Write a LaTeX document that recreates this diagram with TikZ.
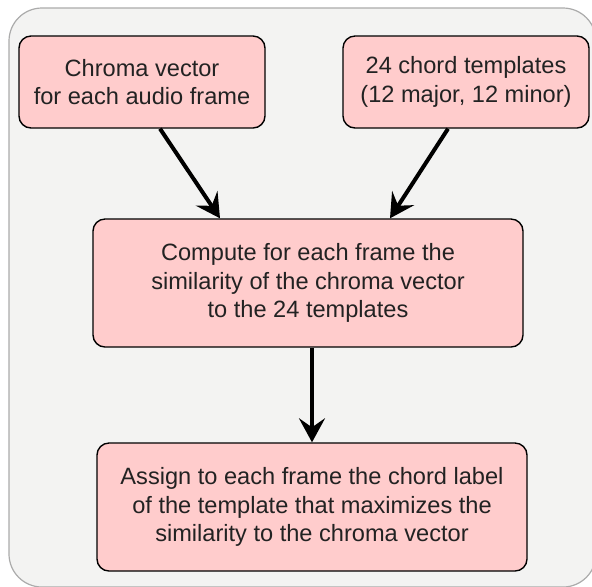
\documentclass[tikz,border=0pt]{standalone}
\usepackage{fontspec}
\setmainfont{Liberation Sans}
\usetikzlibrary{arrows.meta}
\definecolor{panelgray}{HTML}{F3F3F2}
\definecolor{panelline}{HTML}{ABABAB}
\definecolor{boxpink}{HTML}{FFCCCC}
\definecolor{textdark}{HTML}{222222}
\begin{document}
\begin{tikzpicture}[node distance=112pt]
	\tikzstyle{block} = [rectangle, rounded corners=6pt, draw=black, line width=0.7pt,
	fill=boxpink, text=textdark, align=center, font=\fontsize{11.8pt}{14.3pt}\selectfont,
	inner sep=0pt]
	\tikzstyle{arrow} = [line width=2pt, -{Stealth[length=12pt, width=13pt, inset=4.5pt]}]
	\useasboundingbox (0,0) rectangle (296pt,-293pt);
	\draw [fill=panelgray, draw=panelline, line width=0.6pt, rounded corners=16.5pt]
	(4.5pt,-4pt) rectangle (298pt,-293.5pt);
	\node (chroma) [block, minimum width=123pt, minimum height=46pt] at (71pt,-41pt)
	{Chroma vector\\for each audio frame};
	\node (templates) [block, minimum width=123pt, minimum height=46pt, right of=chroma,
	xshift=50pt] {24 chord templates\\(12 major, 12 minor)};
	\node (compute) [block, minimum width=215pt, minimum height=64pt, below of=chroma,
	xshift=83pt, yshift=11.5pt] {Compute for each frame the\\similarity of the chroma vector\\to the 24 templates};
	\node (assign) [block, minimum width=215pt, minimum height=64pt, below of=compute,
	xshift=2pt] {Assign to each frame the chord label\\of the template that maximizes the\\similarity to the chroma vector};
	\draw [arrow] ([xshift=9pt]chroma.south) -- ([xshift=-44pt]compute.north);
	\draw [arrow] ([xshift=-9pt]templates.south) -- ([xshift=41pt]compute.north);
	\draw [arrow] ([xshift=2pt]compute.south) -- (assign.north);
\end{tikzpicture}
\end{document}
